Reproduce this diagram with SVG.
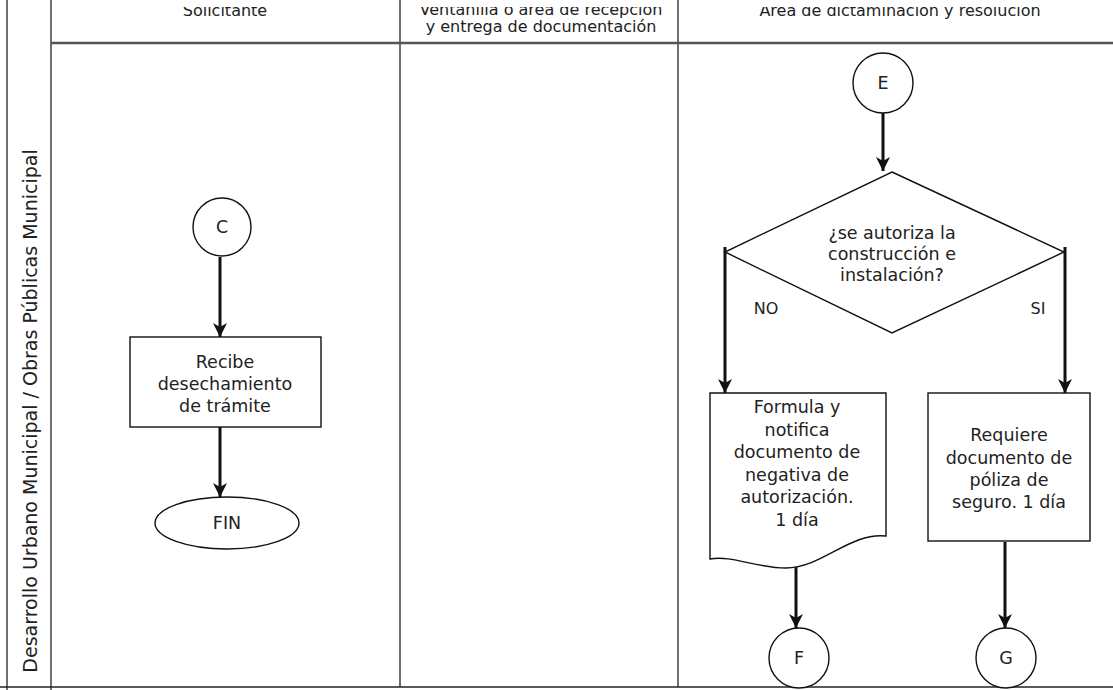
<svg xmlns="http://www.w3.org/2000/svg" width="1113" height="690" viewBox="0 0 1113 690">
<style>
  .t { font-family: "DejaVu Sans", "Liberation Sans", sans-serif; font-size: 17.5px; fill: #222; text-anchor: middle; }
  .h { font-family: "DejaVu Sans", "Liberation Sans", sans-serif; font-size: 16px; fill: #222; text-anchor: middle; }
  .shape { fill: #fff; stroke: #111; stroke-width: 1.4; }
  .lane { stroke: #222; stroke-width: 1.3; fill: none; }
  .conn { stroke: #111; stroke-width: 3; fill: none; }
</style>
<defs>
  <marker id="arr" markerUnits="userSpaceOnUse" markerWidth="16" markerHeight="16" refX="14" refY="7" orient="auto">
    <path d="M0,0 L14,7 L0,14 L4,7 Z" fill="#111"/>
  </marker>
  <clipPath id="hclip"><rect x="0" y="7" width="1113" height="40"/></clipPath>
</defs>
<rect width="1113" height="690" fill="#fff"/>

<g id="lanes">
  <line class="lane" x1="7" y1="0" x2="7" y2="690"/>
  <line class="lane" x1="51" y1="0" x2="51" y2="690"/>
  <line class="lane" x1="400" y1="0" x2="400" y2="687"/>
  <line class="lane" x1="678" y1="0" x2="678" y2="687"/>
  <line x1="51" y1="43" x2="1113" y2="43" stroke="#555" stroke-width="2.5"/>
  <line class="lane" x1="0" y1="687" x2="1113" y2="687"/>
  <g clip-path="url(#hclip)">
    <text class="h" x="225" y="16">Solicitante</text>
    <text class="h" x="541" y="15">Ventanilla o área de recepción</text>
    <text class="h" x="900" y="16">Área de dictaminación y resolución</text>
  </g>
  <text class="h" x="541" y="32">y entrega de documentación</text>
  <text class="t" transform="translate(37,411) rotate(-90)" style="font-size:19px">Desarrollo Urbano Municipal / Obras Públicas Municipal</text>
</g>

<g id="connectors">
  <line class="conn" x1="220" y1="257" x2="220" y2="337" marker-end="url(#arr)"/>
  <line class="conn" x1="220" y1="427" x2="220" y2="497" marker-end="url(#arr)"/>
  <line class="conn" x1="883" y1="113" x2="883" y2="171" marker-end="url(#arr)"/>
  <line class="conn" x1="725" y1="247" x2="725" y2="393" marker-end="url(#arr)"/>
  <line class="conn" x1="1065" y1="247" x2="1065" y2="393" marker-end="url(#arr)"/>
  <line class="conn" x1="796" y1="566" x2="796" y2="628" marker-end="url(#arr)"/>
  <line class="conn" x1="1005" y1="542" x2="1005" y2="628" marker-end="url(#arr)"/>
  <text class="t" x="766" y="314" style="font-size:16px">NO</text>
  <text class="t" x="1038" y="314" style="font-size:16px">SI</text>
</g>

<g id="nodeC">
  <circle class="shape" cx="222" cy="227" r="29"/>
  <text class="t" x="222" y="233">C</text>
</g>
<g id="nodeRecibe">
  <rect class="shape" x="130" y="337" width="191" height="90"/>
  <text class="t" x="225" y="368">Recibe</text>
  <text class="t" x="225" y="390">desechamiento</text>
  <text class="t" x="225" y="412">de trámite</text>
</g>
<g id="nodeFIN">
  <ellipse class="shape" cx="227" cy="523" rx="72" ry="26"/>
  <text class="t" x="227" y="529">FIN</text>
</g>

<g id="nodeE">
  <circle class="shape" cx="883" cy="83" r="30"/>
  <text class="t" x="883" y="89">E</text>
</g>
<g id="nodeDecision">
  <polygon class="shape" points="892,172 1064,252 892,333 725,252"/>
  <text class="t" x="892" y="239">¿se autoriza la</text>
  <text class="t" x="892" y="260">construcción e</text>
  <text class="t" x="892" y="281">instalación?</text>
</g>
<g id="nodeFormula">
  <path class="shape" d="M710,393 H886 V536 C850,532 822,568 786,568 C756,568 732,555 710,559 Z"/>
  <text class="t" x="797" y="413">Formula y</text>
  <text class="t" x="797" y="436">notifica</text>
  <text class="t" x="797" y="458">documento de</text>
  <text class="t" x="797" y="481">negativa de</text>
  <text class="t" x="797" y="503">autorización.</text>
  <text class="t" x="797" y="526">1 día</text>
</g>
<g id="nodeRequiere">
  <rect class="shape" x="928" y="393" width="162" height="148"/>
  <text class="t" x="1009" y="441">Requiere</text>
  <text class="t" x="1009" y="464">documento de</text>
  <text class="t" x="1009" y="486">póliza de</text>
  <text class="t" x="1009" y="508">seguro. 1 día</text>
</g>
<g id="nodeF">
  <circle class="shape" cx="799" cy="658" r="30"/>
  <text class="t" x="799" y="664">F</text>
</g>
<g id="nodeG">
  <circle class="shape" cx="1006" cy="658" r="30"/>
  <text class="t" x="1006" y="664">G</text>
</g>
</svg>
